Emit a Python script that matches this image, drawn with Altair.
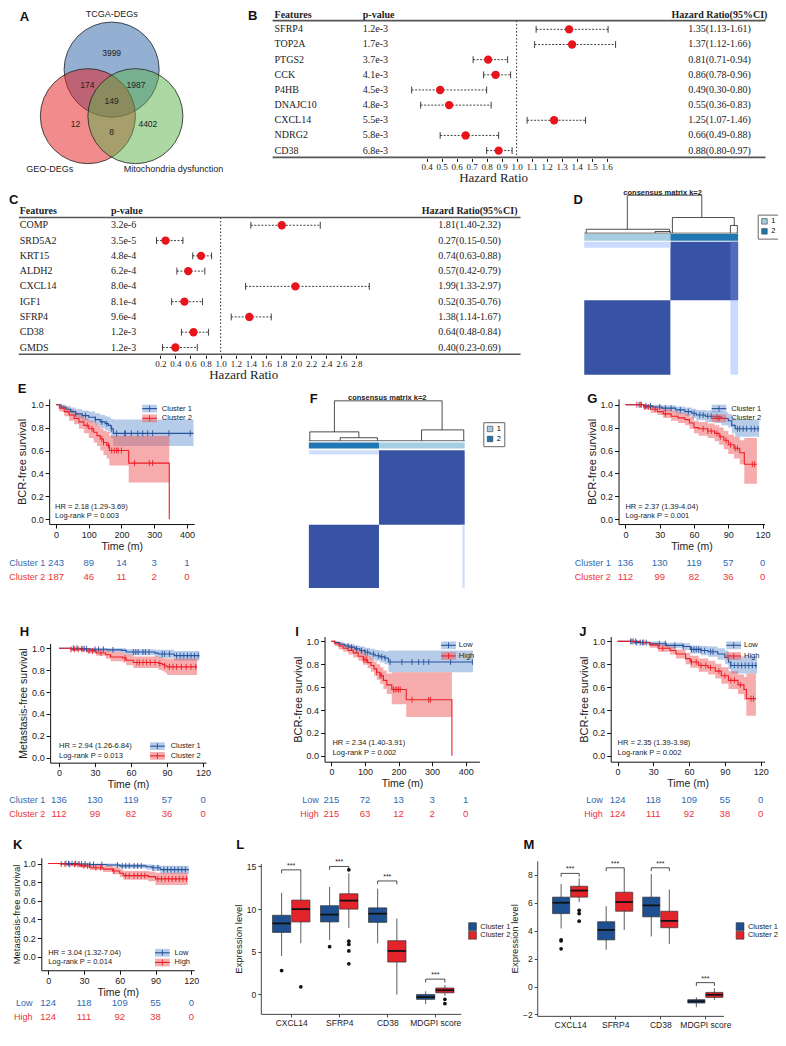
import json
import altair as alt
import pandas as pd

SX = 0.98
SY = 0.97
S = 0.98
W, H = 770, 1030
SANS = "Liberation Sans"
SERIF = "Liberation Serif"

# ================= DATA =================
# A  Venn
venn_sets = ["TCGA-DEGs", "GEO-DEGs", "Mitochondria dysfunction"]
venn_members = [(1, 0, 0), (1, 1, 0), (1, 0, 1), (1, 1, 1), (0, 1, 0), (0, 1, 1), (0, 0, 1)]
venn_counts = [3999, 174, 1987, 149, 12, 8, 4402]

# B  forest
b_feat = ["SFRP4", "TOP2A", "PTGS2", "CCK", "P4HB", "DNAJC10", "CXCL14", "NDRG2", "CD38"]
b_p = ["1.2e-3", "1.7e-3", "3.7e-3", "4.1e-3", "4.5e-3", "4.8e-3", "5.5e-3", "5.8e-3", "6.8e-3"]
b_hr = [1.35, 1.37, 0.81, 0.86, 0.49, 0.55, 1.25, 0.66, 0.88]
b_lo = [1.13, 1.12, 0.71, 0.78, 0.30, 0.36, 1.07, 0.49, 0.80]
b_hi = [1.61, 1.66, 0.94, 0.96, 0.80, 0.83, 1.46, 0.88, 0.97]
b_ticks = [0.4, 0.5, 0.6, 0.7, 0.8, 0.9, 1.0, 1.1, 1.2, 1.3, 1.4, 1.5, 1.6]

# C  forest
c_feat = ["COMP", "SRD5A2", "KRT15", "ALDH2", "CXCL14", "IGF1", "SFRP4", "CD38", "GMDS"]
c_p = ["3.2e-6", "3.5e-5", "4.8e-4", "6.2e-4", "8.0e-4", "8.1e-4", "9.6e-4", "1.2e-3", "1.2e-3"]
c_hr = [1.81, 0.27, 0.74, 0.57, 1.99, 0.52, 1.38, 0.64, 0.40]
c_lo = [1.40, 0.15, 0.63, 0.42, 1.33, 0.35, 1.14, 0.48, 0.23]
c_hi = [2.32, 0.50, 0.88, 0.79, 2.97, 0.76, 1.67, 0.84, 0.69]
c_ticks = [0.2, 0.4, 0.6, 0.8, 1.0, 1.2, 1.4, 1.6, 1.8, 2.0, 2.2, 2.4, 2.6, 2.8]

# D / F consensus matrices: blocks (x0, x1, y0, y1, consensus)
d_blocks = [(0, 0.56, 0, 0.56, 1.0), (0.56, 1, 0.56, 1, 1.0),
            (0, 0.56, 0.955, 1, 0.18), (0.95, 1, 0, 0.56, 0.18), (0.95, 1, 0.56, 1, 0.85)]
d_bar = [(0, 0.56, "1"), (0.56, 1, "2")]
d_tree = [(0.280, 1.0, 0.764, 1.0), (0.280, 1.0, 0.280, 0.10), (0.764, 1.0, 0.764, 0.41),
          (0.013, 0.10, 0.554, 0.10), (0.013, 0.10, 0.013, 0.0), (0.554, 0.10, 0.554, 0.04),
          (0.46, 0.04, 0.56, 0.04), (0.46, 0.04, 0.46, 0.0), (0.56, 0.04, 0.56, 0.0),
          (0.573, 0.41, 0.975, 0.41), (0.573, 0.41, 0.573, 0.0), (0.975, 0.41, 0.975, 0.2),
          (0.95, 0.2, 0.995, 0.2), (0.95, 0.2, 0.95, 0.0), (0.995, 0.2, 0.995, 0.0)]
f_blocks = [(0, 0.45, 0, 0.46, 1.0), (0.45, 1, 0.46, 1, 1.0),
            (0, 0.45, 0.97, 1, 0.15), (0.985, 1, 0, 0.46, 0.15)]
f_bar = [(0, 0.45, "2"), (0.45, 1, "1")]
f_tree = [(0.164, 1.0, 0.855, 1.0), (0.164, 1.0, 0.164, 0.22), (0.855, 1.0, 0.855, 0.27),
          (0.006, 0.22, 0.321, 0.22), (0.006, 0.22, 0.006, 0.0), (0.321, 0.22, 0.321, 0.073),
          (0.201, 0.073, 0.44, 0.073), (0.201, 0.073, 0.201, 0.0), (0.44, 0.073, 0.44, 0.0),
          (0.723, 0.27, 0.994, 0.27), (0.723, 0.27, 0.723, 0.0), (0.994, 0.27, 0.994, 0.0)]

# E
e_c1_t = [0, 15, 30, 45, 60, 80, 100, 120, 135, 150, 160, 168, 175, 420]
e_c1_s = [1.0, 0.98, 0.96, 0.94, 0.92, 0.905, 0.89, 0.87, 0.85, 0.835, 0.82, 0.79, 0.75, 0.75]
e_c1_lo = [1.0, 0.96, 0.93, 0.905, 0.88, 0.86, 0.845, 0.82, 0.795, 0.775, 0.75, 0.71, 0.64, 0.64]
e_c1_hi = [1.0, 1.0, 0.99, 0.975, 0.96, 0.95, 0.94, 0.925, 0.91, 0.90, 0.89, 0.875, 0.87, 0.87]
e_c1_cens = [60, 90, 120, 140, 155, 170, 185, 210, 212, 230, 250, 265, 280, 295, 345, 410]
e_c2_t = [0, 10, 25, 40, 55, 70, 85, 100, 115, 125, 135, 145, 155, 163, 222, 346]
e_c2_s = [1.0, 0.97, 0.94, 0.91, 0.88, 0.85, 0.82, 0.79, 0.76, 0.73, 0.70, 0.67, 0.645, 0.60, 0.49, 0.0]
e_c2_lo = [1.0, 0.94, 0.90, 0.86, 0.83, 0.79, 0.75, 0.71, 0.67, 0.64, 0.60, 0.56, 0.53, 0.47, 0.32, 0.0]
e_c2_hi = [1.0, 1.0, 0.98, 0.96, 0.93, 0.91, 0.88, 0.86, 0.84, 0.82, 0.79, 0.77, 0.76, 0.73, 0.73, 0.0]
e_c2_cens = [95, 110, 140, 145, 160, 170, 178, 185, 190, 200, 240, 285, 295]
# G
g_c1_t = [0, 16, 24, 32, 44, 52, 58, 62, 70, 78, 84, 90, 93, 96, 117]
g_c1_s = [1.0, 0.99, 0.98, 0.97, 0.955, 0.94, 0.925, 0.91, 0.90, 0.895, 0.88, 0.86, 0.82, 0.79, 0.79]
g_c1_lo = [1.0, 0.97, 0.96, 0.94, 0.92, 0.90, 0.885, 0.865, 0.85, 0.84, 0.82, 0.80, 0.75, 0.72, 0.72]
g_c1_hi = [1.0, 1.0, 1.0, 0.995, 0.985, 0.975, 0.965, 0.955, 0.95, 0.945, 0.935, 0.92, 0.89, 0.87, 0.87]
g_c1_cens = [12, 14, 18, 22, 30, 35, 40, 48, 55, 60, 65, 68, 72, 75, 80, 98, 100, 103, 106, 110, 113, 116]
g_c2_t = [0, 16, 22, 28, 33, 40, 46, 52, 56, 60, 64, 72, 78, 82, 86, 90, 95, 100, 104, 115]
g_c2_s = [1.0, 0.98, 0.96, 0.94, 0.92, 0.90, 0.885, 0.87, 0.84, 0.80, 0.79, 0.77, 0.75, 0.72, 0.69, 0.65, 0.62, 0.58, 0.48, 0.48]
g_c2_lo = [1.0, 0.96, 0.93, 0.91, 0.885, 0.86, 0.84, 0.82, 0.79, 0.75, 0.73, 0.71, 0.68, 0.65, 0.61, 0.57, 0.53, 0.48, 0.31, 0.31]
g_c2_hi = [1.0, 1.0, 0.99, 0.975, 0.96, 0.945, 0.93, 0.92, 0.895, 0.86, 0.85, 0.835, 0.82, 0.80, 0.77, 0.74, 0.72, 0.69, 0.71, 0.71]
g_c2_cens = [10, 13, 17, 20, 26, 35, 68, 72, 75, 80, 83, 88, 92, 96, 98, 111, 113]
# H
h_c1_t = [0, 18, 26, 40, 52, 56, 80, 83, 96, 117]
h_c1_s = [1.0, 0.995, 0.99, 0.985, 0.98, 0.965, 0.955, 0.947, 0.932, 0.932]
h_c1_lo = [1.0, 0.985, 0.975, 0.965, 0.955, 0.935, 0.92, 0.91, 0.885, 0.885]
h_c1_hi = [1.0, 1.0, 1.0, 1.0, 1.0, 0.99, 0.985, 0.985, 0.975, 0.975]
h_c1_cens = [12, 15, 19, 21, 23, 30, 33, 37, 45, 62, 64, 66, 70, 72, 75, 86, 88, 92, 98, 101, 104, 107, 110, 113, 116]
h_c2_t = [0, 10, 23, 31, 39, 43, 53, 56, 62, 83, 86, 88, 90, 115]
h_c2_s = [1.0, 0.99, 0.976, 0.956, 0.94, 0.92, 0.91, 0.89, 0.87, 0.86, 0.85, 0.84, 0.83, 0.83]
h_c2_lo = [1.0, 0.975, 0.955, 0.93, 0.905, 0.88, 0.87, 0.845, 0.82, 0.80, 0.79, 0.775, 0.755, 0.755]
h_c2_hi = [1.0, 1.0, 0.995, 0.985, 0.975, 0.965, 0.955, 0.94, 0.925, 0.92, 0.91, 0.905, 0.905, 0.905]
h_c2_cens = [10, 13, 16, 20, 25, 28, 35, 55, 65, 67, 70, 73, 76, 80, 84, 88, 92, 95, 98, 102, 106, 110, 114]
# I
i_lo_t = [0, 10, 25, 40, 55, 70, 85, 100, 115, 130, 145, 158, 170, 422]
i_lo_s = [1.0, 0.99, 0.975, 0.96, 0.95, 0.935, 0.92, 0.905, 0.89, 0.875, 0.865, 0.855, 0.82, 0.82]
i_lo_lo = [1.0, 0.98, 0.96, 0.94, 0.925, 0.905, 0.885, 0.865, 0.845, 0.83, 0.815, 0.80, 0.73, 0.73]
i_lo_hi = [1.0, 1.0, 0.99, 0.98, 0.975, 0.965, 0.955, 0.945, 0.935, 0.925, 0.92, 0.915, 0.92, 0.92]
i_lo_cens = [50, 60, 75, 90, 100, 108, 125, 140, 150, 160, 175, 210, 240, 260, 275, 290, 355, 420]
i_hi_t = [0, 10, 22, 35, 50, 65, 80, 95, 108, 118, 127, 135, 145, 155, 165, 180, 223, 359]
i_hi_s = [1.0, 0.98, 0.96, 0.94, 0.92, 0.90, 0.87, 0.84, 0.815, 0.79, 0.76, 0.73, 0.70, 0.66, 0.62, 0.58, 0.49, 0.0]
i_hi_lo = [1.0, 0.96, 0.93, 0.91, 0.885, 0.86, 0.83, 0.795, 0.765, 0.735, 0.70, 0.665, 0.63, 0.585, 0.54, 0.45, 0.34, 0.0]
i_hi_hi = [1.0, 1.0, 0.99, 0.975, 0.96, 0.945, 0.92, 0.89, 0.87, 0.85, 0.825, 0.80, 0.775, 0.745, 0.72, 0.73, 0.73, 0.0]
i_hi_cens = [95, 100, 105, 135, 145, 150, 185, 190, 195, 200, 205, 240, 290, 295]
# J
j_lo_t = [0, 14, 27, 41, 55, 61, 70, 76, 84, 90, 93, 95, 117]
j_lo_s = [1.0, 0.99, 0.98, 0.965, 0.955, 0.93, 0.92, 0.91, 0.89, 0.86, 0.82, 0.79, 0.79]
j_lo_lo = [1.0, 0.975, 0.96, 0.94, 0.925, 0.895, 0.88, 0.865, 0.84, 0.80, 0.76, 0.72, 0.72]
j_lo_hi = [1.0, 1.0, 1.0, 0.99, 0.985, 0.965, 0.96, 0.955, 0.94, 0.92, 0.89, 0.87, 0.87]
j_lo_cens = [11, 13, 16, 19, 21, 24, 35, 40, 48, 55, 62, 64, 66, 68, 70, 73, 78, 80, 95, 98, 101, 104, 107, 110, 113, 116]
j_hi_t = [0, 19, 27, 34, 44, 49, 57, 61, 68, 76, 82, 87, 93, 101, 106, 108, 116]
j_hi_s = [1.0, 0.99, 0.97, 0.94, 0.92, 0.89, 0.85, 0.82, 0.79, 0.77, 0.74, 0.70, 0.66, 0.62, 0.58, 0.50, 0.50]
j_hi_lo = [1.0, 0.975, 0.945, 0.91, 0.885, 0.85, 0.80, 0.77, 0.735, 0.71, 0.675, 0.63, 0.585, 0.54, 0.49, 0.35, 0.35]
j_hi_hi = [1.0, 1.0, 0.99, 0.97, 0.955, 0.93, 0.90, 0.875, 0.85, 0.83, 0.805, 0.775, 0.74, 0.71, 0.69, 0.72, 0.72]
j_hi_cens = [12, 15, 22, 38, 62, 66, 70, 74, 78, 85, 90, 95, 98, 103, 112, 114]
# K
k_lo_t = [0, 25, 35, 49, 60, 82, 87, 94, 118]
k_lo_s = [1.0, 0.995, 0.99, 0.985, 0.975, 0.965, 0.955, 0.935, 0.935]
k_lo_lo = [1.0, 0.985, 0.975, 0.965, 0.95, 0.935, 0.92, 0.89, 0.89]
k_lo_hi = [1.0, 1.0, 1.0, 1.0, 0.995, 0.99, 0.985, 0.975, 0.975]
k_lo_cens = [15, 17, 20, 23, 26, 28, 31, 35, 38, 45, 58, 62, 65, 68, 72, 75, 78, 88, 92, 97, 100, 103, 106, 109, 112, 115]
k_hi_t = [0, 10, 16, 27, 35, 46, 54, 60, 63, 84, 90, 117]
k_hi_s = [1.0, 0.995, 0.99, 0.975, 0.955, 0.94, 0.92, 0.895, 0.87, 0.86, 0.835, 0.835]
k_hi_lo = [1.0, 0.985, 0.975, 0.955, 0.93, 0.91, 0.885, 0.855, 0.825, 0.81, 0.77, 0.77]
k_hi_hi = [1.0, 1.0, 1.0, 0.995, 0.985, 0.975, 0.96, 0.94, 0.92, 0.915, 0.90, 0.90]
k_hi_cens = [11, 14, 18, 22, 25, 30, 33, 40, 44, 55, 65, 68, 72, 75, 78, 81, 92, 95, 98, 101, 104, 107, 110, 113, 116]

risk_e = [[243, 89, 14, 3, 1], [187, 46, 11, 2, 0]]
risk_gh = [[136, 130, 119, 57, 0], [112, 99, 82, 36, 0]]
risk_i = [[215, 72, 13, 3, 1], [215, 63, 12, 2, 0]]
risk_jk = [[124, 118, 109, 55, 0], [124, 111, 92, 38, 0]]

# L / M boxplots
box_genes = ["CXCL14", "SFRP4", "CD38", "MDGPI score"]
l_c1 = dict(q1=[7.27, 8.5, 8.45, -0.57], med=[8.33, 9.36, 9.47, -0.30], q3=[9.28, 10.4, 10.15, 0.0],
            wlo=[4.5, 6.4, 6.0, -1.1], whi=[11.9, 12.6, 12.4, 0.38])
l_c2 = dict(q1=[8.5, 10.0, 3.8, 0.19], med=[10.0, 11.0, 5.1, 0.5], q3=[11.06, 11.8, 6.3, 0.76],
            wlo=[6.0, 7.8, 0.0, -0.15], whi=[14.2, 14.2, 8.9, 1.1])
l_out_gene = [0, 1, 0, 1, 1, 1, 1, 1, 3, 3]
l_out_cl = [0, 0, 1, 1, 1, 1, 1, 1, 1, 1]
l_out_val = [2.8, 5.6, 0.9, 14.6, 6.25, 5.87, 5.1, 3.6, -0.57, -1.06]
l_brackets = [14.6, 15.0, 13.3, 1.8]
m_c1 = dict(q1=[5.22, 3.34, 4.99, -1.18], med=[6.0, 4.05, 5.81, -1.06], q3=[6.4, 4.64, 6.4, -0.94],
            wlo=[4.16, 2.64, 3.58, -1.48], whi=[7.34, 5.76, 8.05, -0.78])
m_c2 = dict(q1=[6.4, 5.39, 4.21, -0.78], med=[6.87, 6.05, 4.7, -0.59], q3=[7.18, 6.75, 5.39, -0.42],
            wlo=[6.05, 4.05, 3.04, -0.96], whi=[7.74, 8.28, 6.94, -0.12])
m_out_gene = [0, 0, 0, 0, 0, 0]
m_out_cl = [0, 0, 0, 1, 1, 1]
m_out_val = [3.34, 3.27, 2.7, 5.46, 5.22, 4.68]
m_brackets = [8.1, 8.5, 8.5, 0.28]

# ================= STYLE =================
BLUE_L, BLUE_B, BLUE_T = "#24519c", "#6f9ad3", "#2d6ab3"
RED_L, RED_B, RED_T = "#ee1c25", "#ee5a5a", "#ee3338"
HEAT = "#3953a4"
LIGHTB, DARKB = "#a6cee3", "#1f78b4"
BOX_B, BOX_R = "#1d4f91", "#e3242b"
VENN_FILL = ["#275fa5", "#e51919", "#59b149"]


def PX(v):
    return round(v * SX, 2)


def PY(v):
    return round(v * SY, 2)


def linx(d0, d1, p0, p1):
    return alt.Scale(domain=[d0, d1], range=[PX(p0), PX(p1)], nice=False, zero=False)


def liny(d0, d1, p0, p1):
    return alt.Scale(domain=[d0, d1], range=[PY(p0), PY(p1)], nice=False, zero=False)


ONE = pd.DataFrame({"k": [0]})


def txt(x, y, s, size=9, align="left", weight="normal", color="#111", font=SANS, angle=None, baseline="middle"):
    kw = dict(text=s, fontSize=size, align=align, fontWeight=weight, color=color, font=font, baseline=baseline)
    if angle is not None:
        kw["angle"] = angle
    return alt.Chart(ONE).mark_text(**kw).encode(x=alt.value(PX(x)), y=alt.value(PY(y)))


def seg(x1, y1, x2, y2, color="#000", width=1.0, dash=None):
    kw = dict(color=color, strokeWidth=width)
    if dash:
        kw["strokeDash"] = dash
    return alt.Chart(ONE).mark_rule(**kw).encode(
        x=alt.value(PX(x1)), x2=alt.value(PX(x2)), y=alt.value(PY(y1)), y2=alt.value(PY(y2)))


def rect(x1, y1, x2, y2, fill, opacity=1.0, stroke=None, sw=0.8):
    kw = dict(fill=fill, opacity=opacity)
    if stroke:
        kw.update(stroke=stroke, strokeWidth=sw)
    return alt.Chart(ONE).mark_rect(**kw).encode(
        x=alt.value(PX(x1)), x2=alt.value(PX(x2)), y=alt.value(PY(y1)), y2=alt.value(PY(y2)))


# ================= A: Venn =================
def venn_panel():
    centers = [(0.0, 1.0), (-0.5, 0.0), (0.5, 0.0)]
    xs = linx(-2, 2, 105.75 - 97, 105.75 + 97)
    ys = liny(-1.5, 2.5, 111.5 + 72, 111.5 - 120)
    circ = pd.DataFrame({"set": venn_sets, "cx": [c[0] for c in centers],
                         "cy": [c[1] for c in centers], "fc": VENN_FILL})
    circles = alt.Chart(circ).mark_point(
        filled=True, shape="circle", size=(97 * S) ** 2, fillOpacity=0.5, opacity=1,
        stroke="#222", strokeWidth=0.8, strokeOpacity=1).encode(
        x=alt.X("cx:Q", scale=xs, axis=None), y=alt.Y("cy:Q", scale=ys, axis=None),
        fill=alt.Fill("fc:N", scale=None))
    pos = []
    for mem, cnt in zip(venn_members, venn_counts):
        inc = [c for c, m in zip(centers, mem) if m]
        exc = [c for c, m in zip(centers, mem) if not m]
        mx = sum(c[0] for c in inc) / len(inc)
        my = sum(c[1] for c in inc) / len(inc)
        if exc:
            ex = sum(c[0] for c in exc) / len(exc)
            ey = sum(c[1] for c in exc) / len(exc)
            mx, my = mx + 0.35 * (mx - ex), my + 0.35 * (my - ey)
        pos.append((mx, my, str(cnt)))
    cnt_df = pd.DataFrame(pos, columns=["x", "y", "n"])
    counts = alt.Chart(cnt_df).mark_text(fontSize=8.5, font=SANS, color="#222").encode(
        x=alt.X("x:Q", scale=xs, axis=None), y=alt.Y("y:Q", scale=ys, axis=None), text="n:N")
    offs = [(0, 1.2), (-0.8, -1.14), (0.8, -1.14)]
    lab_df = pd.DataFrame({"x": [c[0] + o[0] for c, o in zip(centers, offs)],
                           "y": [c[1] + o[1] for c, o in zip(centers, offs)], "n": venn_sets})
    labels = alt.Chart(lab_df).mark_text(fontSize=9, font=SANS, color="#222").encode(
        x=alt.X("x:Q", scale=xs, axis=None), y=alt.Y("y:Q", scale=ys, axis=None), text="n:N")
    return alt.layer(circles, counts, labels)


# ================= forest =================
def forest(feat, pv, hr, lo, hi, g):
    n = len(feat)
    df = pd.DataFrame({"f": feat, "p": pv, "hr": hr, "lo": lo, "hi": hi, "r": list(range(n))})
    df["lab"] = [f"{a:.2f}({b:.2f}-{c:.2f})" for a, b, c in zip(hr, lo, hi)]
    d0, d1 = g["dom"]
    xs = linx(d0, d1, g["one"] + (d0 - 1) * g["ppu"], g["one"] + (d1 - 1) * g["ppu"])
    ys = liny(0, n - 1, g["r0"], g["r1"])
    ax = alt.Axis(orient="bottom", offset=PY(g["axy"]) - H, values=g["ticks"], format=".1f",
                  labelFont=SERIF, labelFontSize=g["tfs"], labelPadding=1, tickSize=3, domain=False,
                  labelColor="#222", title="Hazard Ratio", titleFont=SERIF, titleFontSize=13,
                  titlePadding=0, titleX=PX(g["titx"]), titleColor="#222", grid=False)

    def X(f):
        return alt.X(f"{f}:Q", scale=xs, axis=ax)

    Y = alt.Y("r:Q", scale=ys, axis=None)
    layers = [
        alt.Chart(pd.DataFrame({"v": [1.0]})).mark_rule(color="#111", strokeWidth=0.9, strokeDash=[1.5, 2]).encode(
            x=X("v"), y=alt.value(PY(g["top"])), y2=alt.value(PY(g["bot"]))),
        alt.Chart(df).mark_rule(color="#111", strokeWidth=0.8, strokeDash=[2, 1.5]).encode(x=X("lo"), x2="hi:Q", y=Y),
        alt.Chart(df).mark_point(shape="M0,-1L0,1", size=(7 * S) ** 2, color="#111", strokeWidth=0.8, opacity=1).encode(x=X("lo"), y=Y),
        alt.Chart(df).mark_point(shape="M0,-1L0,1", size=(7 * S) ** 2, color="#111", strokeWidth=0.8, opacity=1).encode(x=X("hi"), y=Y),
        alt.Chart(df).mark_circle(color="#e8141b", size=(8.5 * S) ** 2, opacity=1).encode(x=X("hr"), y=Y),
        alt.Chart(df).mark_text(align="left", font=SERIF, fontSize=g["fs"], color="#222").encode(
            x=alt.value(PX(g["cf"])), y=Y, text="f:N"),
        alt.Chart(df).mark_text(align="left", font=SERIF, fontSize=g["fs"], color="#222").encode(
            x=alt.value(PX(g["cp"])), y=Y, text="p:N"),
        alt.Chart(df).mark_text(align="center", font=SERIF, fontSize=g["fs"], color="#222").encode(
            x=alt.value(PX(g["ch"])), y=Y, text="lab:N"),
        txt(g["cf"], g["hy"], "Features", size=g["fs"], weight="bold", font=SERIF, color="#222"),
        txt(g["cp"], g["hy"], "p-value", size=g["fs"], weight="bold", font=SERIF, color="#222"),
        txt(g["ch"], g["hy"], "Hazard Ratio(95%CI)", size=g["fs"], weight="bold", font=SERIF, align="center", color="#222"),
        seg(g["lx0"], g["top"], g["lx1"], g["top"], color="#555", width=1.6),
        seg(g["lx0"], g["bot"], g["lx1"], g["bot"], color="#555", width=1.6),
    ]
    return alt.layer(*layers)


# ================= consensus matrix =================
def heat_panel(blocks, bars, tree, g):
    xs = linx(0, 1, g["xl"], g["xr"])
    ys = liny(0, 1, g["yb"], g["yt"])
    bdf = pd.DataFrame(blocks, columns=["x0", "x1", "y0", "y1", "v"])
    cells = alt.Chart(bdf).mark_rect().encode(
        x=alt.X("x0:Q", scale=xs, axis=None), x2="x1:Q",
        y=alt.Y("y0:Q", scale=ys, axis=None), y2="y1:Q",
        fill=alt.Fill("v:Q", scale=alt.Scale(domain=[0, 1], range=["#ffffff", HEAT]), legend=None))
    bar_df = pd.DataFrame(bars, columns=["x0", "x1", "cl"])
    bar = alt.Chart(bar_df).mark_rect().encode(
        x=alt.X("x0:Q", scale=xs, axis=None), x2="x1:Q",
        y=alt.value(PY(g["by0"])), y2=alt.value(PY(g["by1"])),
        color=alt.Color("cl:N", scale=alt.Scale(domain=["1", "2"], range=[LIGHTB, DARKB]),
                        legend=alt.Legend(orient="none", legendX=PX(g["lgx"]), legendY=PY(g["lgy"]), title=None,
                                          symbolType="square", symbolSize=30, labelFontSize=7.5, labelFont=SANS,
                                          strokeColor="#666", padding=3, rowPadding=1, labelOffset=3,
                                          symbolStrokeColor="#333", symbolStrokeWidth=0.6)))
    heat = alt.layer(cells, bar)
    tys = liny(0, 1, g["th0"], g["th1"])
    tdf = pd.DataFrame(tree, columns=["x0", "h0", "x1", "h1"])
    dendro = alt.Chart(tdf).mark_rule(color="#222", strokeWidth=0.8).encode(
        x=alt.X("x0:Q", scale=xs, axis=None), x2="x1:Q",
        y=alt.Y("h0:Q", scale=tys, axis=None), y2="h1:Q")
    base = alt.Chart(pd.DataFrame({"a": [0.0], "b": [1.0], "h": [0.0]})).mark_rule(color="#888", strokeWidth=1.2).encode(
        x=alt.X("a:Q", scale=xs, axis=None), x2="b:Q", y=alt.Y("h:Q", scale=tys, axis=None))
    return [heat, alt.layer(base, dendro)]


# ================= Kaplan–Meier =================
def surv_at(ts, ss, t):
    v = ss[0]
    for a, b in zip(ts, ss):
        if a <= t:
            v = b
    return v


def km(c):
    g = c["geo"]
    ppu = g["ppu"]
    xs = linx((g["xL"] - g["t0"]) / ppu, (g["xR"] - g["t0"]) / ppu, g["xL"], g["xR"])
    u = g["s0"] - g["s1"]
    ys = liny((g["s0"] - g["yB"]) / u, (g["s0"] - g["yT"]) / u, g["yB"], g["yT"])
    xax = alt.Axis(orient="bottom", offset=PY(g["yB"]) - H, values=c["xticks"], title="Time (m)",
                   labelFontSize=9, titleFontSize=10.5, tickSize=4, labelPadding=2, titlePadding=2, grid=False)
    yax = alt.Axis(orient="left", offset=-PX(g["xL"]), values=[0.0, 0.2, 0.4, 0.6, 0.8, 1.0], format=".1f",
                   title=c["ytitle"], labelFontSize=9, titleFontSize=c["ytfs"], tickSize=4, labelPadding=2,
                   titlePadding=c.get("ytp", 3), grid=False)

    def X(f):
        return alt.X(f"{f}:Q", scale=xs, axis=xax)

    def Y(f):
        return alt.Y(f"{f}:Q", scale=ys, axis=yax)

    cols = [(BLUE_L, BLUE_B, BLUE_T), (RED_L, RED_B, RED_T)]
    rows, cens = [], []
    for (name, t, s, lo, hi, ce), (lc, bc, tc) in zip(c["groups"], cols):
        for a, b, l, h in zip(t, s, lo, hi):
            rows.append(dict(g=name, t=a, s=b, lo=l, hi=h, lc=lc, bc=bc))
        for a in ce:
            cens.append(dict(g=name, t=a, s=surv_at(t, s, a), lc=lc))
    df = pd.DataFrame(rows)
    cdf = pd.DataFrame(cens)
    layers = [
        alt.Chart(df).mark_area(interpolate="step-after", opacity=0.5).encode(
            x=X("t"), y=Y("lo"), y2="hi:Q", color=alt.Color("bc:N", scale=None), detail="g:N"),
        alt.Chart(df).mark_line(interpolate="step-after", strokeWidth=1.1).encode(
            x=X("t"), y=Y("s"), color=alt.Color("lc:N", scale=None), detail="g:N"),
        alt.Chart(cdf).mark_point(shape="M0,-1L0,1", size=(6 * S) ** 2, strokeWidth=0.9, opacity=1, filled=False).encode(
            x=X("t"), y=Y("s"), color=alt.Color("lc:N", scale=None)),
    ]
    for (name, *_), risk, ry, (lc, bc, tc) in zip(c["groups"], c["risk"], c["risk_y"], cols):
        rdf = pd.DataFrame({"t": c["xticks"], "n": risk})
        layers.append(alt.Chart(rdf).mark_text(fontSize=9.5, font=SANS, color=tc).encode(
            x=X("t"), y=alt.value(PY(ry)), text="n:Q"))
        layers.append(txt(c["risk_lx"], ry, name, size=9, align="right", color=tc))
    lg = c["leg"]
    for (name, *_), ly, (lc, bc, tc) in zip(c["groups"], lg["y"], cols):
        layers.append(rect(lg["x"], ly - 4, lg["x"] + 15, ly + 4, bc, opacity=0.5))
        layers.append(seg(lg["x"], ly, lg["x"] + 15, ly, color=lc, width=1.1))
        layers.append(seg(lg["x"] + 7.5, ly - 3, lg["x"] + 7.5, ly + 3, color=lc, width=0.9))
        layers.append(txt(lg["tx"], ly, name, size=7.5, color="#222"))
    for ty, s in zip(c["hr_y"], c["hr_text"]):
        layers.append(txt(c["hr_x"], ty, s, size=7.5, color="#222"))
    return alt.layer(*layers)


# ================= boxplots =================
def boxes(c1, c2, og, oc, ov, br, g):
    OFF, HW = [-0.2, 0.2], 0.19
    rows = []
    for ci, st in enumerate([c1, c2]):
        for gi in range(len(box_genes)):
            pos = gi + OFF[ci]
            rows.append(dict(pos=pos, left=pos - HW, right=pos + HW, q1=st["q1"][gi], med=st["med"][gi],
                             q3=st["q3"][gi], wlo=st["wlo"][gi], whi=st["whi"][gi], fc=[BOX_B, BOX_R][ci]))
    df = pd.DataFrame(rows)
    odf = pd.DataFrame({"pos": [a + OFF[b] for a, b in zip(og, oc)], "v": ov})
    bdf = pd.DataFrame({"p1": [i + OFF[0] for i in range(len(br))], "p2": [i + OFF[1] for i in range(len(br))],
                        "h": br, "hb": [b - g["tick"] for b in br],
                        "pm": [float(i) for i in range(len(br))], "s": ["***"] * len(br)})
    xs = linx(g["xd"][0], g["xd"][1], g["x0"] + g["xd"][0] * g["xu"], g["x0"] + g["xd"][1] * g["xu"])
    ys = liny(g["yd"][0], g["yd"][1], g["y0"] - g["yd"][0] * g["yu"], g["y0"] - g["yd"][1] * g["yu"])
    xax = alt.Axis(orient="bottom", offset=PY(g["y0"] - g["yd"][0] * g["yu"]) - H, values=[0, 1, 2, 3],
                   labelExpr=f"{json.dumps(box_genes)}[datum.value]", title=None, labelFontSize=8.5,
                   tickSize=3, labelPadding=2, grid=False, domainColor="#444", tickColor="#444")
    yax = alt.Axis(orient="left", offset=-PX(g["x0"] + g["xd"][0] * g["xu"]), values=g["yt"], title="Expression level",
                   labelFontSize=8.5, titleFontSize=9.5, tickSize=3, labelPadding=2, titlePadding=3, grid=False,
                   domainColor="#444", tickColor="#444")

    def X(f):
        return alt.X(f"{f}:Q", scale=xs, axis=xax)

    def Y(f):
        return alt.Y(f"{f}:Q", scale=ys, axis=yax)

    layers = [
        alt.Chart(df).mark_rule(color="#333", strokeWidth=0.8).encode(x=X("pos"), y=Y("wlo"), y2="whi:Q"),
        alt.Chart(df).mark_rect(stroke="#333", strokeWidth=0.7).encode(
            x=X("left"), x2="right:Q", y=Y("q1"), y2="q3:Q", fill=alt.Fill("fc:N", scale=None)),
        alt.Chart(df).mark_rule(color="#111", strokeWidth=1.8).encode(x=X("left"), x2="right:Q", y=Y("med")),
        alt.Chart(odf).mark_circle(color="#111", size=14, opacity=1).encode(x=X("pos"), y=Y("v")),
        alt.Chart(bdf).mark_rule(color="#222", strokeWidth=0.8).encode(x=X("p1"), x2="p2:Q", y=Y("h")),
        alt.Chart(bdf).mark_rule(color="#222", strokeWidth=0.8).encode(x=X("p1"), y=Y("hb"), y2="h:Q"),
        alt.Chart(bdf).mark_rule(color="#222", strokeWidth=0.8).encode(x=X("p2"), y=Y("hb"), y2="h:Q"),
        alt.Chart(bdf).mark_text(fontSize=7, baseline="bottom", dy=-1, color="#222").encode(
            x=X("pm"), y=Y("h"), text="s:N"),
    ]
    for i, (nm, fc) in enumerate([("Cluster 1", BOX_B), ("Cluster 2", BOX_R)]):
        ly = g["leg_y"][i]
        layers.append(rect(g["leg_x"], ly - 4, g["leg_x"] + 8, ly + 4, fc, stroke="#333", sw=0.6))
        layers.append(txt(g["leg_x"] + 12, ly, nm, size=7.5, color="#222"))
    return alt.layer(*layers)


# ================= assemble =================
panels = [venn_panel()]
panels.append(forest(b_feat, b_p, b_hr, b_lo, b_hi, dict(
    dom=(0.3, 1.66), one=519, ppu=153, r0=22, r1=147, axy=155, ticks=b_ticks, tfs=9, titx=495,
    top=13, bot=154, cf=272, cp=362, ch=726, hy=7, lx0=270, lx1=773, fs=10)))
panels.append(forest(c_feat, c_p, c_hr, c_lo, c_hi, dict(
    dom=(0.15, 2.97), one=217, ppu=77, r0=224, r1=350, axy=358, ticks=c_ticks, tfs=9, titx=240,
    top=216, bot=357, cf=12, cp=105, ch=471, hy=209, lx0=11, lx1=523, fs=10)))
panels += heat_panel(d_blocks, d_bar, d_tree, dict(xl=588, xr=745, yb=378, yt=241, by0=233, by1=240,
                                                   th0=232, th1=193, lgx=765, lgy=213))
panels += heat_panel(f_blocks, f_bar, f_tree, dict(xl=307, xr=466, yb=598, yt=456, by0=448, by1=454,
                                                   th0=446, th1=405, lgx=485, lgy=427))

c12 = ("Cluster 1", "Cluster 2")
lh = ("Low", "High")
panels.append(km(dict(
    geo=dict(xL=42, xR=190, t0=49, ppu=0.334, yB=532, yT=403, s0=527, s1=409),
    xticks=[0, 100, 200, 300, 400], ytitle="BCR-free survival", ytfs=11,
    groups=[(c12[0], e_c1_t, e_c1_s, e_c1_lo, e_c1_hi, e_c1_cens), (c12[1], e_c2_t, e_c2_s, e_c2_lo, e_c2_hi, e_c2_cens)],
    risk=risk_e, risk_y=[572, 587], risk_lx=38, leg=dict(x=137, y=[413, 423], tx=157),
    hr_x=48, hr_y=[514, 524], hr_text=["HR = 2.18 (1.29-3.69)", "Log-rank P = 0.003"])))
panels.append(km(dict(
    geo=dict(xL=623, xR=772, t0=630, ppu=1.1667, yB=532, yT=403, s0=527, s1=409),
    xticks=[0, 30, 60, 90, 120], ytitle="BCR-free survival", ytfs=11,
    groups=[(c12[0], g_c1_t, g_c1_s, g_c1_lo, g_c1_hi, g_c1_cens), (c12[1], g_c2_t, g_c2_s, g_c2_lo, g_c2_hi, g_c2_cens)],
    risk=risk_gh, risk_y=[572, 587], risk_lx=615, leg=dict(x=718, y=[413, 423], tx=738),
    hr_x=630, hr_y=[514, 524], hr_text=["HR = 2.37 (1.39-4.04)", "Log-rank P = 0.001"])))
panels.append(km(dict(
    geo=dict(xL=43, xR=202, t0=52, ppu=1.225, yB=778, yT=655, s0=773, s1=660),
    xticks=[0, 30, 60, 90, 120], ytitle="Metastasis-free survival", ytfs=10.5,
    groups=[(c12[0], h_c1_t, h_c1_s, h_c1_lo, h_c1_hi, h_c1_cens), (c12[1], h_c2_t, h_c2_s, h_c2_lo, h_c2_hi, h_c2_cens)],
    risk=risk_gh, risk_y=[816, 831], risk_lx=38, leg=dict(x=145, y=[761, 771], tx=166),
    hr_x=52, hr_y=[761, 771], hr_text=["HR = 2.94 (1.26-6.84)", "Log-rank P = 0.013"])))
panels.append(km(dict(
    geo=dict(xL=323, xR=481, t0=330, ppu=0.3425, yB=777, yT=648, s0=771, s1=653),
    xticks=[0, 100, 200, 300, 400], ytitle="BCR-free survival", ytfs=11,
    groups=[(lh[0], i_lo_t, i_lo_s, i_lo_lo, i_lo_hi, i_lo_cens), (lh[1], i_hi_t, i_hi_s, i_hi_lo, i_hi_hi, i_hi_cens)],
    risk=risk_i, risk_y=[816, 831], risk_lx=317, leg=dict(x=442, y=[657, 668], tx=460),
    hr_x=331, hr_y=[758, 768], hr_text=["HR = 2.34 (1.40-3.91)", "Log-rank P = 0.002"])))
panels.append(km(dict(
    geo=dict(xL=615, xR=772, t0=622, ppu=1.2167, yB=777, yT=648, s0=771, s1=653),
    xticks=[0, 30, 60, 90, 120], ytitle="BCR-free survival", ytfs=11,
    groups=[(lh[0], j_lo_t, j_lo_s, j_lo_lo, j_lo_hi, j_lo_cens), (lh[1], j_hi_t, j_hi_s, j_hi_lo, j_hi_hi, j_hi_cens)],
    risk=risk_jk, risk_y=[816, 831], risk_lx=607, leg=dict(x=733, y=[657, 668], tx=751),
    hr_x=622, hr_y=[758, 768], hr_text=["HR = 2.35 (1.39-3.98)", "Log-rank P = 0.002"])))
panels.append(km(dict(
    geo=dict(xL=34, xR=190, t0=41, ppu=1.217, yB=992, yT=876, s0=978, s1=882),
    xticks=[0, 30, 60, 90, 120], ytitle="Metastasis-free survival", ytfs=9.5, ytp=1,
    groups=[(lh[0], k_lo_t, k_lo_s, k_lo_lo, k_lo_hi, k_lo_cens), (lh[1], k_hi_t, k_hi_s, k_hi_lo, k_hi_hi, k_hi_cens)],
    risk=risk_jk, risk_y=[1026, 1040], risk_lx=25, leg=dict(x=150, y=[974, 984], tx=170),
    hr_x=41, hr_y=[974, 984], hr_text=["HR = 3.04 (1.32-7.04)", "Log-rank P = 0.014"])))

panels.append(boxes(l_c1, l_c2, l_out_gene, l_out_cl, l_out_val, l_brackets, dict(
    x0=289, xu=49, xd=(-0.633, 3.53), y0=1017, yu=8.8, yd=(-2.27, 15.34), yt=[0, 5, 10, 15],
    tick=0.4, leg_x=470, leg_y=[947, 956])))
panels.append(boxes(m_c1, m_c2, m_out_gene, m_out_cl, m_out_val, m_brackets, dict(
    x0=573.6, xu=46, xd=(-0.73, 3.4), y0=1008.8, yu=14.4, yd=(-2.1, 9.0), yt=[-2, 0, 2, 4, 6, 8],
    tick=0.24, leg_x=743, leg_y=[947, 956])))

# panel letters and titles
for lx, ly, s in [(12, 9, "A"), (245, 8, "B"), (1, 198, "C"), (577, 198, "D"), (10, 393, "E"),
                  (308, 403, "F"), (591, 403, "G"), (12, 643, "H"), (293, 643, "I"), (583, 643, "J"),
                  (5, 863, "K"), (233, 863, "L"), (526, 863, "M")]:
    panels.append(txt(lx, ly, s, size=13, weight="bold", color="#111"))
panels.append(txt(668, 191, "consensus matrix k=2", size=7.5, weight="bold", align="center", color="#222"))
panels.append(txt(387, 402, "consensus matrix k=2", size=7.5, weight="bold", align="center", color="#222"))

chart = alt.layer(*panels).resolve_scale(
    x="independent", y="independent", color="independent", fill="independent"
).properties(width=W, height=H, autosize=alt.AutoSizeParams(type="none"), padding=0)
chart = chart.configure_view(stroke=None).configure_axis(
    grid=False, labelFont=SANS, titleFont=SANS, domainColor="#111", tickColor="#111",
    labelColor="#222", titleColor="#222", titleFontWeight="normal")

chart.save("out.html", embed_options={"renderer": "svg", "actions": False})
